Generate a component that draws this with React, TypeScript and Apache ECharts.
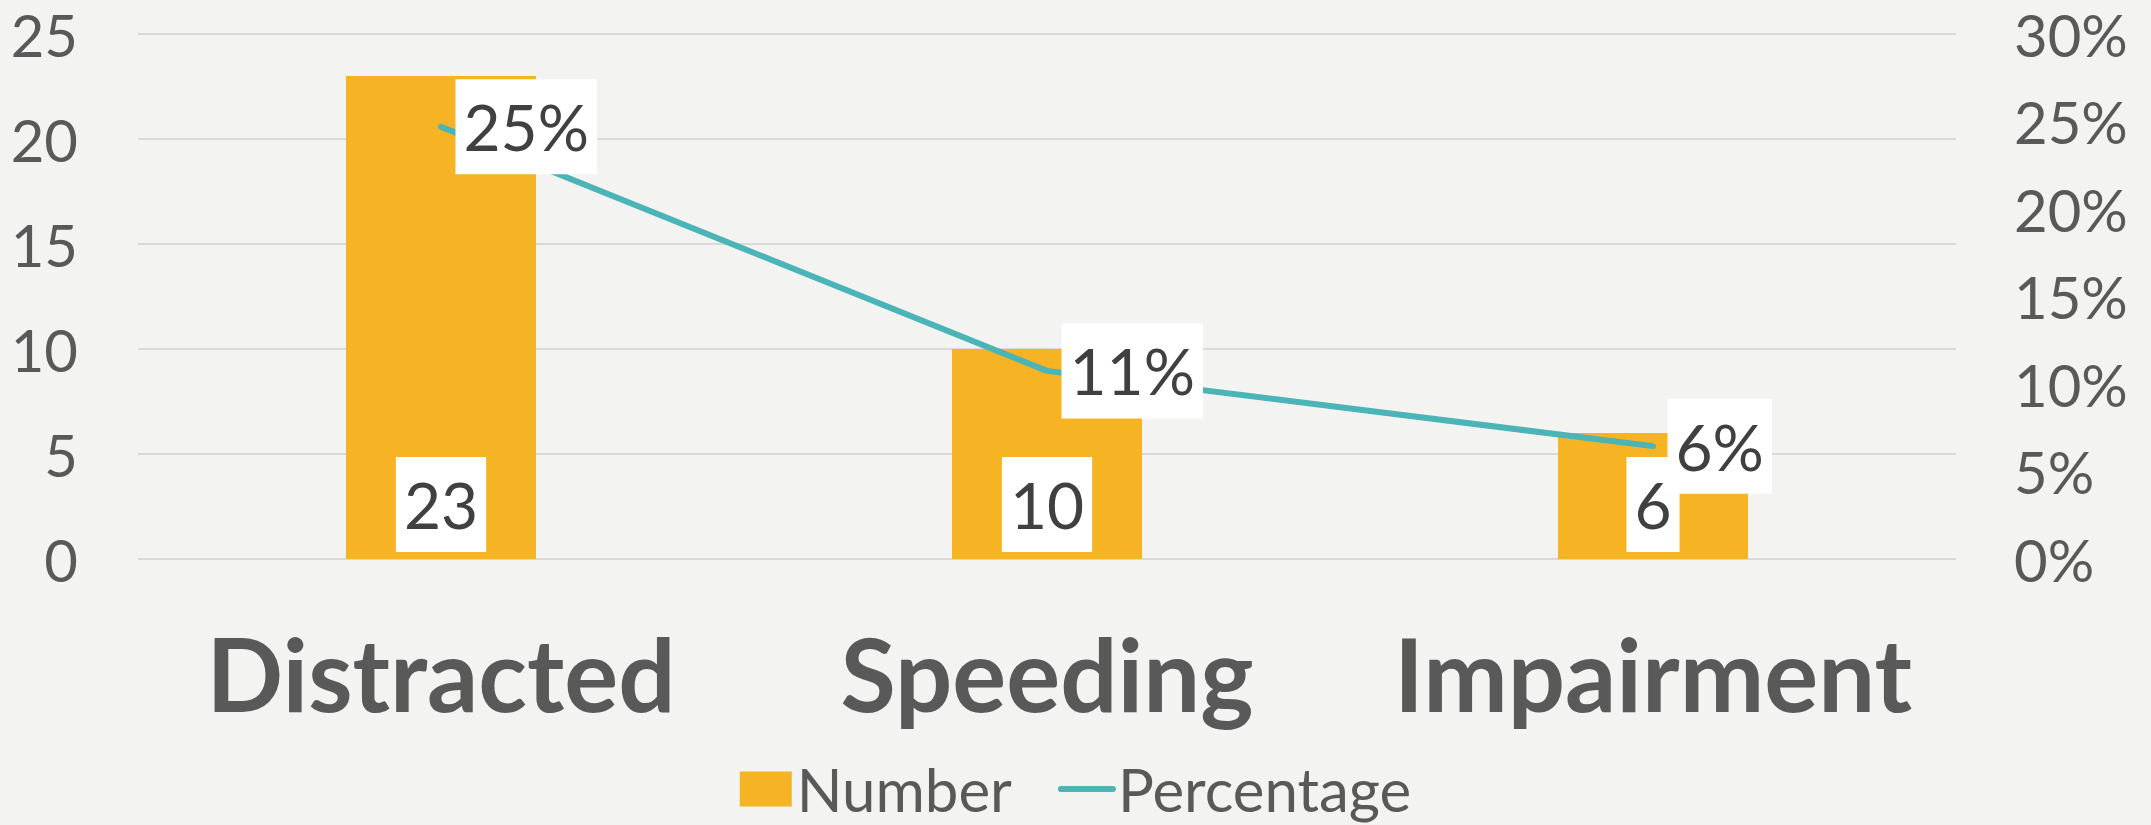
import React, { useEffect, useRef } from 'react';
import * as echarts from 'echarts';

const categories = ['Distracted', 'Speeding', 'Impairment'];
const numberValues = [23, 10, 6];
const percentValues = [0.247, 0.1075, 0.0645];
const seriesNames = ['Number', 'Percentage'];

const FONT = 'Lato, "Open Sans", sans-serif';
const BAR = '#F6B323';
const LINE = '#4AB4B6';
const AXIS_TEXT = '#595959';
const LABEL_TEXT = '#404040';

const dataLabel = {
  fontSize: 64,
  lineHeight: 75,
  color: LABEL_TEXT,
  fontFamily: FONT,
  backgroundColor: '#FFFFFF',
  padding: [10, 8, 10, 8],
};

export default function App() {
  const ref = useRef<HTMLDivElement>(null);
  useEffect(() => {
    document.body.style.margin = '0';
    const chart = echarts.init(ref.current!, null, { renderer: 'svg' });
    chart.setOption({
      animation: false,
      backgroundColor: '#F3F3F1',
      textStyle: { fontFamily: FONT },
      grid: { left: 138, right: 195, top: 34, bottom: 266 },
      legend: {
        data: [
          { name: seriesNames[0], icon: 'rect' },
          {
            name: seriesNames[1],
            itemStyle: { opacity: 0, color: 'rgba(0,0,0,0)' },
            lineStyle: { width: 6, cap: 'round', color: LINE },
          },
        ],
        top: 754,
        left: 'center',
        itemWidth: 52,
        itemHeight: 35,
        itemGap: 46,
        textStyle: { fontSize: 60, color: AXIS_TEXT, fontFamily: FONT, lineHeight: 60 },
      },
      xAxis: {
        type: 'category',
        data: categories,
        axisLine: { show: false },
        axisTick: { show: false },
        axisLabel: {
          interval: 0,
          hideOverlap: false,
          fontSize: 101,
          fontWeight: 'bold',
          color: AXIS_TEXT,
          fontFamily: FONT,
          margin: 114,
          verticalAlign: 'middle',
        },
      },
      yAxis: [
        {
          type: 'value',
          min: 0,
          max: 25,
          interval: 5,
          axisLine: { show: false },
          axisTick: { show: false },
          splitLine: { lineStyle: { color: '#D9D9D9', width: 2 } },
          axisLabel: { fontSize: 58, color: AXIS_TEXT, fontFamily: FONT, margin: 60 },
        },
        {
          type: 'value',
          min: 0,
          max: 0.3,
          interval: 0.05,
          axisLine: { show: false },
          axisTick: { show: false },
          splitLine: { show: false },
          axisLabel: {
            fontSize: 58,
            color: AXIS_TEXT,
            fontFamily: FONT,
            margin: 58,
            formatter: (v: number) => Math.round(v * 100) + '%',
          },
        },
      ],
      series: [
        {
          name: seriesNames[0],
          type: 'bar',
          data: numberValues,
          barWidth: 190,
          itemStyle: { color: BAR },
          label: { show: true, position: 'insideBottom', distance: 7, ...dataLabel },
        },
        {
          name: seriesNames[1],
          type: 'line',
          yAxisIndex: 1,
          data: percentValues,
          z: 3,
          symbol: 'none',
          lineStyle: { color: LINE, width: 6, cap: 'round' },
          itemStyle: { color: LINE },
        },
        {
          name: 'percentLabels',
          type: 'scatter',
          yAxisIndex: 1,
          data: percentValues,
          z: 4,
          symbolSize: 1,
          itemStyle: { color: 'rgba(0,0,0,0)', opacity: 1 },
          silent: true,
          label: {
            show: true,
            position: 'right',
            distance: 14,
            ...dataLabel,
            formatter: (p: any) => Math.round(p.value * 100) + '%',
          },
        },
      ],
    });
    return () => chart.dispose();
  }, []);
  return <div ref={ref} style={{ width: 2151, height: 825, position: 'absolute', left: 0, top: 0 }} />;
}
